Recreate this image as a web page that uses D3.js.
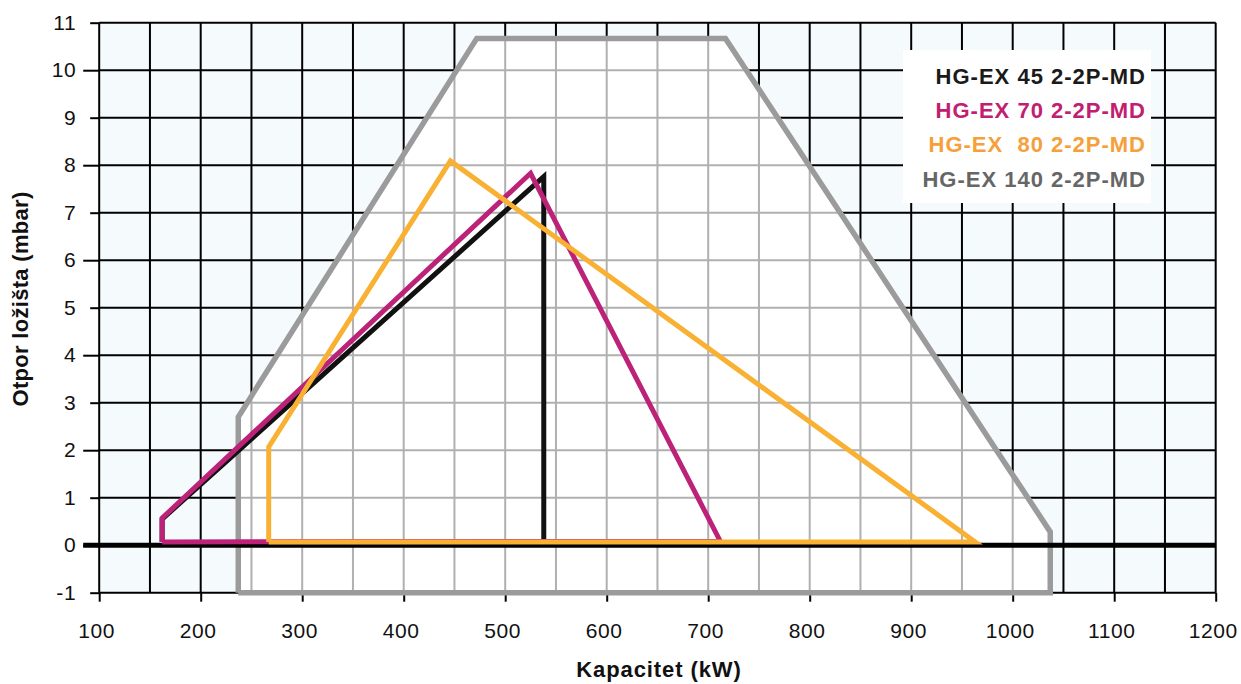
<!DOCTYPE html>
<html>
<head>
<meta charset="utf-8">
<script src="https://cdn.jsdelivr.net/npm/d3@7"></script>
<style>
  html, body { margin: 0; padding: 0; background: #ffffff; }
  svg { display: block; font-family: "Liberation Sans", Arial, Helvetica, sans-serif; }
</style>
</head>
<body>
<svg id="chart" width="1241" height="684"></svg>
<script>
// ---- data ----
const xTicks = [100, 200, 300, 400, 500, 600, 700, 800, 900, 1000, 1100, 1200];
const yTicks = [-1, 0, 1, 2, 3, 4, 5, 6, 7, 8, 9, 10, 11];
const xGrid = [100,150,200,250,300,350,400,450,500,550,600,650,700,750,800,850,900,950,1000,1050,1100,1150,1200];

const seriesNames = ["HG-EX 45 2-2P-MD", "HG-EX 70 2-2P-MD", "HG-EX  80 2-2P-MD", "HG-EX 140 2-2P-MD"];

// [kW, mbar]
const hgex45 = [[162, 0.07], [162, 0.55], [538, 7.76], [538, 0.07]];
const hgex70 = [[162, 0.07], [162, 0.57], [525, 7.83], [712, 0.08], [162, 0.07]];
const hgex80 = [[267, 0.07], [267, 2.07], [446, 8.09], [963, 0.07], [267, 0.07]];
const hgex140 = [[237, -1], [237, 2.7], [472, 10.67], [717, 10.67], [1037, 0.28], [1037, -1], [237, -1]];

const xAxisTitle = "Kapacitet (kW)";
const yAxisTitle = "Otpor ložišta (mbar)";

// ---- drawing ----
const svg = d3.select("#chart");
const x = d3.scaleLinear().domain([100, 1200]).range([99.2, 1215.7]);
const y = d3.scaleLinear().domain([-1, 11]).range([592.7, 22.7]);

const colors = {
  c45: "#111111", c70: "#bb2278", c80: "#f8b133", c140: "#9b9b9b",
  t45: "#1a1a1a", t70: "#c0206f", t80: "#f5a03a", t140: "#666666"
};

// background
svg.append("rect")
  .attr("x", x(100)).attr("y", y(11))
  .attr("width", x(1200) - x(100)).attr("height", y(-1) - y(11))
  .attr("fill", "#f5fafd");

function drawGrid(g, color) {
  g.selectAll("line.v").data(xGrid).join("line").attr("class", "v")
    .attr("x1", d => x(d)).attr("x2", d => x(d))
    .attr("y1", y(11)).attr("y2", y(-1))
    .attr("stroke", color).attr("stroke-width", 2);
  g.selectAll("line.h").data(yTicks).join("line").attr("class", "h")
    .attr("x1", x(100)).attr("x2", x(1200))
    .attr("y1", d => y(d)).attr("y2", d => y(d))
    .attr("stroke", color).attr("stroke-width", 2);
}

drawGrid(svg.append("g"), "#000000");

const line = d3.line().x(d => x(d[0])).y(d => y(d[1]));

// white interior of the 140 envelope with grey grid
svg.append("clipPath").attr("id", "env")
  .append("path").attr("d", line(hgex140));
svg.append("path").attr("d", line(hgex140)).attr("fill", "#ffffff");
drawGrid(svg.append("g").attr("clip-path", "url(#env)"), "#b0b0b0");

// axes
const fmt = d => String(d);
const xAxis = d3.axisBottom(x).tickValues(xTicks).tickFormat(fmt).tickSize(9).tickPadding(21);
const gx = svg.append("g").attr("transform", `translate(0,${y(-1)})`).call(xAxis);
gx.select(".domain").remove();
gx.selectAll(".tick line").attr("stroke", "#000").attr("stroke-width", 2);
gx.selectAll(".tick text").attr("font-size", 21).attr("fill", "#111")
  .attr("letter-spacing", 0.6).attr("dx", -3)
  .attr("font-family", "'Liberation Sans', Arial, sans-serif");

const yAxis = d3.axisLeft(y).tickValues(yTicks).tickFormat(fmt).tickSize(9).tickPadding(14);
const gy = svg.append("g").attr("transform", `translate(${x(100)},0)`).call(yAxis);
gy.select(".domain").remove();
gy.selectAll(".tick line").attr("stroke", "#000").attr("stroke-width", 2)
  .attr("x2", d => (d % 2 === 0 ? -16 : -9));
gy.selectAll(".tick text").attr("font-size", 21).attr("fill", "#111")
  .attr("letter-spacing", 0.6)
  .attr("font-family", "'Liberation Sans', Arial, sans-serif");

// envelope outline
svg.append("path").attr("d", line(hgex140))
  .attr("fill", "none").attr("stroke", colors.c140).attr("stroke-width", 5.5)
  .attr("stroke-linejoin", "miter");

// zero line
svg.append("line")
  .attr("x1", x(100) - 16).attr("x2", x(1200))
  .attr("y1", y(0)).attr("y2", y(0))
  .attr("stroke", "#000").attr("stroke-width", 5);

// series
[[hgex45, colors.c45], [hgex70, colors.c70], [hgex80, colors.c80]].forEach(([pts, c]) => {
  svg.append("path").attr("d", line(pts))
    .attr("fill", "none").attr("stroke", c).attr("stroke-width", 5)
    .attr("stroke-linejoin", "miter");
});

// legend
svg.append("rect").attr("x", 903).attr("y", 50).attr("width", 248).attr("height", 153)
  .attr("fill", "#ffffff");
const legColors = [colors.t45, colors.t70, colors.t80, colors.t140];
svg.append("g").selectAll("text").data(seriesNames).join("text")
  .attr("x", 1146).attr("y", (d, i) => 84 + i * 34.2)
  .attr("text-anchor", "end")
  .attr("font-size", 22).attr("font-weight", "bold")
  .attr("letter-spacing", 1)
  .style("white-space", "pre")
  .attr("fill", (d, i) => legColors[i])
  .text(d => d);

// axis titles
svg.append("text").attr("x", 659).attr("y", 677)
  .attr("text-anchor", "middle").attr("font-size", 22).attr("font-weight", "bold")
  .attr("letter-spacing", 0.9)
  .attr("fill", "#111").text(xAxisTitle);
svg.append("text")
  .attr("transform", "translate(28,299) rotate(-90)")
  .attr("text-anchor", "middle").attr("font-size", 22).attr("font-weight", "bold")
  .attr("letter-spacing", 0.3)
  .attr("fill", "#111").text(yAxisTitle);
</script>
</body>
</html>
